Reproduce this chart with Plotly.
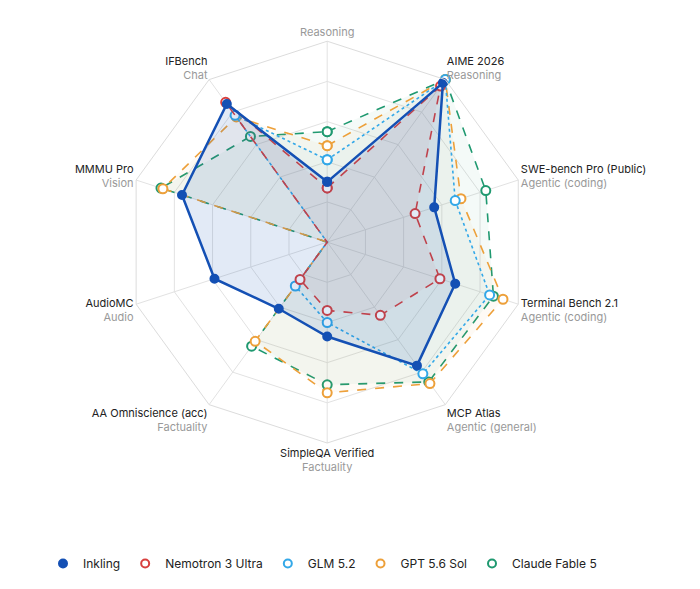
import plotly.graph_objects as go

axes_names = ["Reasoning", "AIME 2026", "SWE-bench Pro (Public)", "Terminal Bench 2.1",
              "MCP Atlas", "SimpleQA Verified", "AA Omniscience (acc)", "AudioMC",
              "MMMU Pro", "IFBench"]
axes_groups = ["", "Reasoning", "Agentic (coding)", "Agentic (coding)",
               "Agentic (general)", "Factuality", "Factuality", "Audio", "Vision", "Chat"]

models = ["Inkling", "Nemotron 3 Ultra", "GLM 5.2", "GPT 5.6 Sol", "Claude Fable 5"]
inkling = [0.30, 0.98, 0.56, 0.67, 0.76, 0.47, 0.41, 0.59, 0.76, 0.85]
nemotron = [0.27, 0.96, 0.46, 0.59, 0.45, 0.34, 0.23, 0.0, 0.0, 0.86]
glm = [0.41, 1.0, 0.67, 0.85, 0.81, 0.40, 0.27, 0.0, 0.0, 0.78]
gpt = [0.48, 1.0, 0.70, 0.92, 0.87, 0.75, 0.61, 0.0, 0.86, 0.77]
claude = [0.55, 1.0, 0.83, 0.87, 0.86, 0.71, 0.64, 0.0, 0.87, 0.65]

series = [inkling, nemotron, glm, gpt, claude]
colors = ["#1450b4", "#d8403e", "#33a8e8", "#eda03a", "#1f9970"]
fills = ["rgba(20,80,180,0.12)", "rgba(216,64,62,0.05)", "rgba(51,168,232,0.04)",
         "rgba(237,160,58,0.05)", "rgba(31,153,112,0.05)"]
dashes = ["solid", "dash", "dot", "dash", "dash"]

labels = []
for n, g in zip(axes_names, axes_groups):
    if g:
        labels.append(f"<span style='color:#222'>{n}</span><br><span style='color:#999'>{g}</span>")
    else:
        labels.append(f"<span style='color:#999'>{n}</span>")

fig = go.Figure()
for name, vals, c, fc, d in reversed(list(zip(models, series, colors, fills, dashes))):
    filled = name == "Inkling"
    fig.add_trace(go.Scatterpolar(
        r=vals + vals[:1], theta=axes_names + axes_names[:1], name=name,
        mode="lines+markers", fill="toself", fillcolor=fc, showlegend=False,
        line=dict(color=c, width=2.5 if filled else 1.6, dash=d),
        marker=dict(size=8 if filled else 9, color=c if filled else "white",
                    line=dict(color=c, width=2)),
    ))

# legend entries: markers only
for name, c in zip(models, colors):
    filled = name == "Inkling"
    fig.add_trace(go.Scatterpolar(
        r=[None], theta=[axes_names[0]], name=name, mode="markers",
        marker=dict(size=8, color=c if filled else "white", line=dict(color=c, width=2)),
    ))

fig.update_layout(
    width=700, height=589, paper_bgcolor="white",
    font=dict(family="Inter", size=11, color="#222"),
    margin=dict(l=0, r=0, t=0, b=0),
    polar=dict(
        domain=dict(x=[0.169, 0.743], y=[0.261, 0.944]),
        bgcolor="white", gridshape="linear",
        radialaxis=dict(range=[0, 1], tickvals=[0.2, 0.4, 0.6, 0.8, 1.0],
                        showticklabels=False, showline=False, ticks="",
                        gridcolor="#e2e2e2"),
        angularaxis=dict(direction="clockwise", rotation=90, tickvals=axes_names,
                         ticktext=labels, linecolor="#dcdcdc", gridcolor="#e2e2e2",
                         ticks=""),
    ),
    legend=dict(orientation="h", x=0.05, y=0.057, xanchor="left", yanchor="middle",
                font=dict(size=12), itemwidth=30),
)
fig.write_html("out.html")
